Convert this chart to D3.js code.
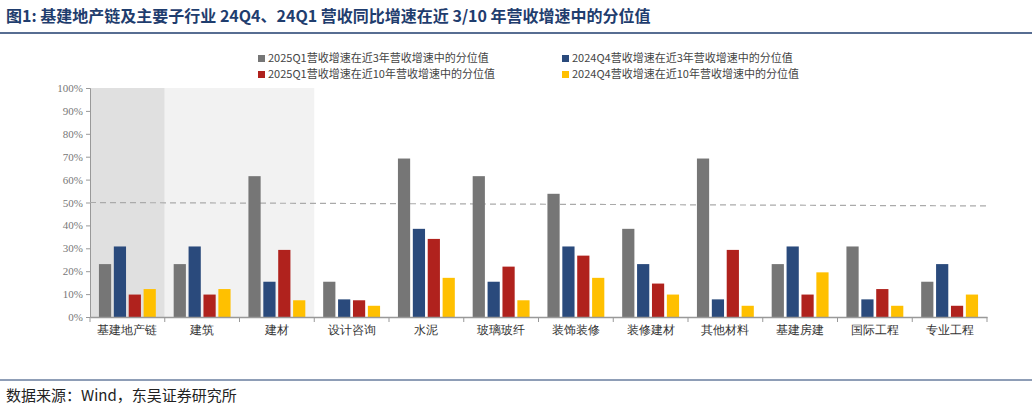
<!DOCTYPE html>
<html lang="zh">
<head>
<meta charset="utf-8">
<style>
  body { margin: 0; background: #fff; font-family: "Noto Sans CJK SC", serif; }
  svg { display: block; }
</style>
</head>
<body>
<script src="https://cdn.jsdelivr.net/npm/d3@7"></script>
<script>
var categories = ['基建地产链', '建筑', '建材', '设计咨询', '水泥', '玻璃玻纤', '装饰装修', '装修建材', '其他材料', '基建房建', '国际工程', '专业工程'];
var q1_3y  = [23.1, 23.1, 61.5, 15.4, 69.2, 61.5, 53.8, 38.5, 69.2, 23.1, 30.8, 15.4];
var q4_3y  = [30.8, 30.8, 15.4, 7.7, 38.5, 15.4, 30.8, 23.1, 7.7, 30.8, 7.7, 23.1];
var q1_10y = [9.8, 9.8, 29.3, 7.3, 34.1, 22.0, 26.8, 14.6, 29.3, 9.8, 12.2, 4.9];
var q4_10y = [12.2, 12.2, 7.3, 4.9, 17.1, 7.3, 17.1, 9.8, 4.9, 19.5, 4.9, 9.8];
var seriesNames = ['2025Q1营收增速在近3年营收增速中的分位值', '2024Q4营收增速在近3年营收增速中的分位值',
                   '2025Q1营收增速在近10年营收增速中的分位值', '2024Q4营收增速在近10年营收增速中的分位值'];
var colors = ['#767676', '#2a4a7c', '#b0221d', '#ffc000'];
var yTicks = [0, 10, 20, 30, 40, 50, 60, 70, 80, 90, 100];

(function () {
  var W = 1032, H = 411;
  var svg = d3.select('body').append('svg').attr('width', W).attr('height', H);

  // title and frame lines
  svg.append('text').attr('x', 6).attr('y', 22).attr('font-size', 16).attr('font-weight', 'bold')
    .attr('fill', '#1f3d6e').text('图1:  基建地产链及主要子行业 24Q4、24Q1 营收同比增速在近 3/10 年营收增速中的分位值');
  svg.append('line').attr('x1', 0).attr('x2', W).attr('y1', 33).attr('y2', 33).attr('stroke', '#1f3d6e').attr('stroke-width', 1.5);
  svg.append('line').attr('x1', 0).attr('x2', W).attr('y1', 380).attr('y2', 380).attr('stroke', '#1f3d6e').attr('stroke-width', 1);
  svg.append('text').attr('x', 6).attr('y', 401).attr('font-size', 15).attr('fill', '#222').text('数据来源：Wind，东吴证券研究所');

  var pl = 90, pr = 987, pt = 88, pb = 317;
  var x = d3.scaleBand().domain(categories).range([pl, pr]);
  var y = d3.scaleLinear().domain([0, 100]).range([pb, pt]);
  var xs = d3.scaleBand().domain(d3.range(4)).range([0, x.bandwidth()]).paddingInner(0.18).paddingOuter(0.6);

  // background shading
  svg.append('rect').attr('x', x(categories[0])).attr('y', pt).attr('width', x.bandwidth()).attr('height', pb - pt).attr('fill', '#e0e0e0');
  svg.append('rect').attr('x', x(categories[1])).attr('y', pt).attr('width', x.bandwidth() * 2).attr('height', pb - pt).attr('fill', '#f2f2f2');

  // y axis
  var ya = svg.append('g').attr('transform', 'translate(' + pl + ',0)')
    .call(d3.axisLeft(y).tickValues(yTicks).tickFormat(function (d) { return d + '%'; }).tickSize(4));
  ya.selectAll('text').attr('font-family', '"Liberation Serif", serif').attr('font-size', 11).attr('fill', '#777');
  ya.selectAll('line, path').attr('stroke', '#999');

  // 50% reference line (slightly sloping in original)
  svg.append('line').attr('x1', pl).attr('x2', pr).attr('y1', y(50)).attr('y2', y(48.5))
    .attr('stroke', '#aaa').attr('stroke-dasharray', '6,4').attr('stroke-width', 1.2);

  var series = [q1_3y, q4_3y, q1_10y, q4_10y];
  series.forEach(function (vals, s) {
    svg.append('g').selectAll('rect').data(vals).enter().append('rect')
      .attr('x', function (d, i) { return x(categories[i]) + xs(s); })
      .attr('width', xs.bandwidth())
      .attr('y', function (d) { return y(d); })
      .attr('height', function (d) { return pb - y(d); })
      .attr('fill', colors[s]);
  });

  // x axis with ticks at category boundaries
  var xa = svg.append('g').attr('transform', 'translate(0,' + pb + ')').call(d3.axisBottom(x).tickSize(0).tickPadding(8));
  xa.selectAll('text').attr('font-size', 12).attr('fill', '#333');
  xa.select('path').attr('stroke', '#999').attr('stroke-width', 1.5);
  xa.selectAll('.bnd').data(d3.range(categories.length + 1)).enter().append('line')
    .attr('x1', function (i) { return pl + i * x.bandwidth(); })
    .attr('x2', function (i) { return pl + i * x.bandwidth(); })
    .attr('y1', 0).attr('y2', 5).attr('stroke', '#999');

  // legend
  var lx = [258, 562], ly = [62, 78];
  seriesNames.forEach(function (n, i) {
    var g = svg.append('g').attr('transform', 'translate(' + lx[i % 2] + ',' + ly[Math.floor(i / 2)] + ')');
    g.append('rect').attr('x', 0).attr('y', -7).attr('width', 7).attr('height', 7).attr('fill', colors[i]);
    g.append('text').attr('x', 10).attr('y', 0).attr('font-size', 11).attr('fill', '#444').text(n);
  });
})();
</script>
</body>
</html>
